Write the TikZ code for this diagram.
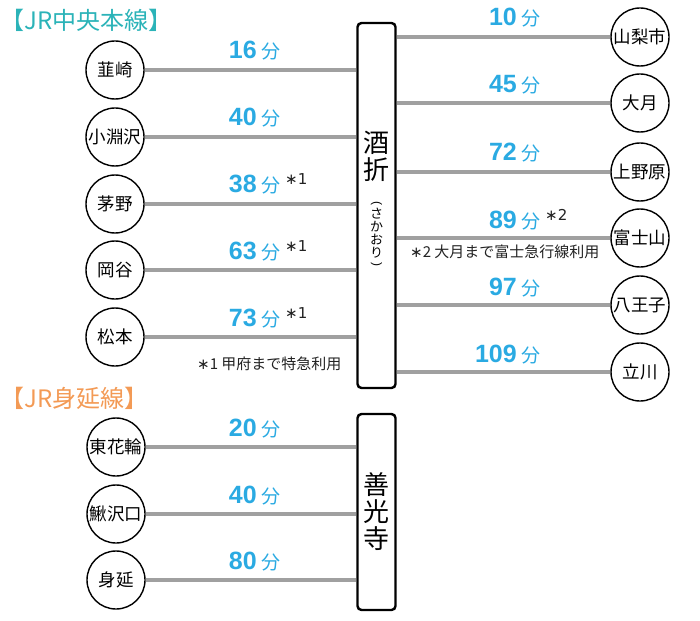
\documentclass[tikz,border=0pt]{standalone}
\usepackage{fontspec}
\setmainfont{Liberation Sans}
\newfontfamily\jp{Noto Sans CJK JP}
\newfontfamily\symf{DejaVu Sans}
\definecolor{tealhead}{HTML}{2BB3B8}
\definecolor{orangehead}{HTML}{F39A55}
\definecolor{timeblue}{HTML}{2AAAE2}
\definecolor{linkgray}{HTML}{A0A0A0}
\definecolor{notedark}{HTML}{222222}
\newcommand\tmlabel[1]{{\bfseries\fontsize{25}{25}\selectfont #1}\hspace{5pt}{\jp\fontsize{19}{19}\selectfont 分}}
\tikzset{
  stn/.style={circle, draw=black, line width=1.4pt, fill=white, minimum size=58pt, inner sep=0pt,
    font=\jp\fontsize{17.5}{17.5}\selectfont},
  hub/.style={draw=black, line width=2.4pt, rounded corners=4pt, minimum width=38pt, inner sep=0pt, fill=white},
  link/.style={linkgray, line width=4pt},
  tlab/.style={anchor=base east, inner sep=0pt, text=timeblue},
  starlab/.style={anchor=base west, inner sep=0pt, text=notedark, font=\symf\fontsize{15}{15}\selectfont},
  notetext/.style={anchor=base west, inner sep=0pt, text=notedark, font=\jp\fontsize{15}{15}\selectfont},
  headtext/.style={anchor=base west, inner sep=0pt, font=\jp\fontsize{24}{24}\selectfont},
  kana/.style={inner sep=0pt, font=\jp\fontsize{13}{13}\selectfont},
  parenv/.style={inner sep=0pt, rotate=-90, font=\fontsize{12}{12}\selectfont},
}
\begin{document}
\begin{tikzpicture}[x=1pt,y=-1pt]
\useasboundingbox (0,0) rectangle (700,620);
% headings
\node[headtext, text=tealhead] (h1) at (0,30) {【JR中央本線】};
\node[headtext, text=orangehead] (h2) at (0,407) {【JR身延線】};
% hubs
\node[hub, minimum height=365pt] (sak) at (376.5,205.5) {};
\node[hub, minimum height=196pt] (zen) at (376.5,512) {};
\node[font=\jp\fontsize{26}{27}\selectfont, align=center, inner sep=0pt] (sakname) at (376.5,156) {酒\\折};
\node[parenv] (p1) at (376.5,203) {(};
\node[kana] (k1) at (376.5,214) {さ};
\node[kana] (k2) at (376.5,227) {か};
\node[kana] (k3) at (376.5,240) {お};
\node[kana] (k4) at (376.5,253) {り};
\node[parenv] (p2) at (376.5,264) {)};
\node[font=\jp\fontsize{26}{27}\selectfont, align=center, inner sep=0pt] (zenname) at (376.5,512) {善\\光\\寺};
% left stations
\node[stn] (l1) at (115,70) {韮崎};
\node[stn] (l2) at (115,137) {小淵沢};
\node[stn] (l3) at (115,204) {茅野};
\node[stn] (l4) at (115,270) {岡谷};
\node[stn] (l5) at (115,337) {松本};
% right stations
\node[stn] (r1) at (640,37) {山梨市};
\node[stn] (r2) at (640,103) {大月};
\node[stn] (r3) at (640,172) {上野原};
\node[stn] (r4) at (640,238) {富士山};
\node[stn] (r5) at (640,305) {八王子};
\node[stn] (r6) at (640,372) {立川};
% bottom stations
\node[stn] (b1) at (116,447) {東花輪};
\node[stn] (b2) at (116,514) {鰍沢口};
\node[stn] (b3) at (116,580) {身延};
% links
\foreach \n in {l1,l2,l3,l4,l5}{\draw[link] (\n.east) -- (\n.east -| sak.west);}
\foreach \n in {r1,r2,r3,r4,r5,r6}{\draw[link] (sak.east |- \n.west) -- (\n.west);}
\foreach \n in {b1,b2,b3}{\draw[link] (\n.east) -- (\n.east -| zen.west);}
% left times
\node[tlab] (t1) at (281,59) {\tmlabel{16}};
\node[tlab] (t2) at (281,126) {\tmlabel{40}};
\node[tlab] (t3) at (281,193) {\tmlabel{38}};
\node[tlab] (t4) at (281,259) {\tmlabel{63}};
\node[tlab] (t5) at (281,326) {\tmlabel{73}};
\node[starlab] (s3) at (285,185) {∗1};
\node[starlab] (s4) at (285,251) {∗1};
\node[starlab] (s5) at (285,318) {∗1};
% right times
\node[tlab] (u1) at (541,26) {\tmlabel{10}};
\node[tlab] (u2) at (541,93) {\tmlabel{45}};
\node[tlab] (u3) at (541,161) {\tmlabel{72}};
\node[tlab] (u4) at (541,228) {\tmlabel{89}};
\node[tlab] (u5) at (541,295) {\tmlabel{97}};
\node[tlab] (u6) at (541,362) {\tmlabel{109}};
\node[starlab] (s6) at (545,220) {∗2};
% bottom times
\node[tlab] (v1) at (281,436) {\tmlabel{20}};
\node[tlab] (v2) at (281,503) {\tmlabel{40}};
\node[tlab] (v3) at (281,569) {\tmlabel{80}};
% notes
\node[notetext] (n1) at (197,369) {{\symf ∗}1 甲府まで特急利用};
\node[notetext] (n2) at (410,257) {{\symf ∗}2 大月まで富士急行線利用};
\end{tikzpicture}
\end{document}
